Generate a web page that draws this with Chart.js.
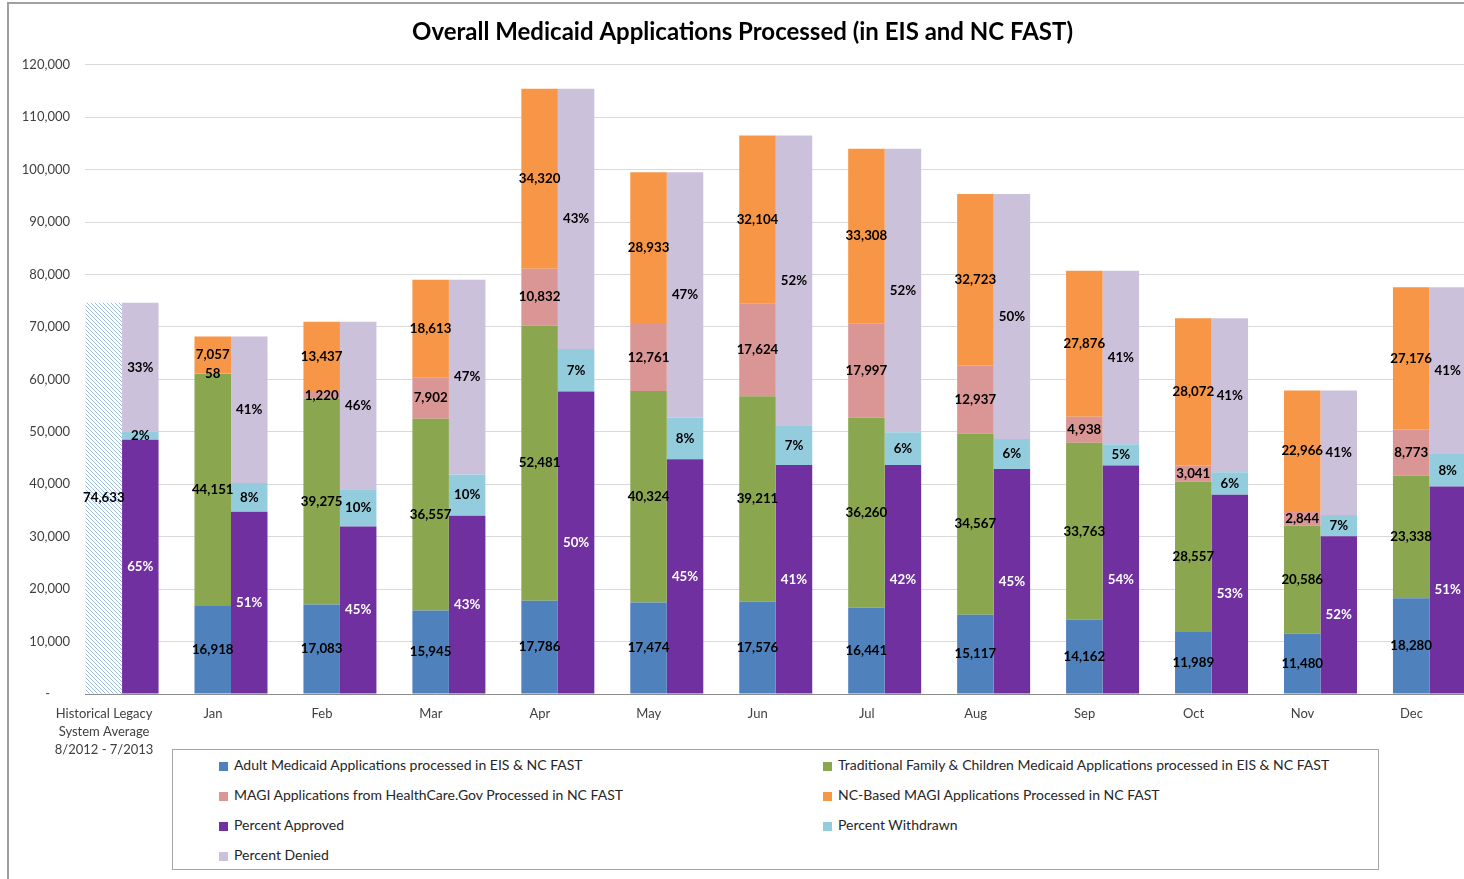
<!DOCTYPE html>
<html>
<head>
<meta charset="utf-8">
<title>Overall Medicaid Applications Processed</title>
<script src="https://cdn.jsdelivr.net/npm/chart.js@4.4.1/dist/chart.umd.min.js"></script>
<style>
  html, body { margin: 0; padding: 0; background: #fff; overflow: hidden; }
  #wrap { position: relative; width: 1464px; height: 879px; overflow: hidden; }
  #frame { position: absolute; left: 7px; top: 2px; width: 1600px; height: 1000px;
           border-left: 2px solid #a0a0a0; border-top: 2px solid #a0a0a0; }
  #chart { position: absolute; left: 0; top: 0; }
  #legend { position: absolute; left: 172px; top: 749px; width: 1207px; height: 121px;
            box-sizing: border-box; border: 1px solid #a6a6a6; background: #fff;
            font-family: Lato, sans-serif; font-size: 14px; color: #262626; }
  .item { position: absolute; height: 18px; line-height: 18px; white-space: nowrap; }
  .item i { display: inline-block; width: 9px; height: 9px; margin-right: 6px; vertical-align: -0.5px; }
</style>
</head>
<body>
<div id="wrap">
  <canvas id="chart" width="1490" height="879"></canvas>
  <div id="frame"></div>
  <div id="legend"></div>
</div>
<script>
// ---- data ----
const categories = [['Historical Legacy', 'System Average', '8/2012 - 7/2013'],
  'Jan', 'Feb', 'Mar', 'Apr', 'May', 'Jun', 'Jul', 'Aug', 'Sep', 'Oct', 'Nov', 'Dec'];

const historicalAvg  = [74633, null, null, null, null, null, null, null, null, null, null, null, null];
const adult          = [null, 16918, 17083, 15945, 17786, 17474, 17576, 16441, 15117, 14162, 11989, 11480, 18280];
const traditional    = [null, 44151, 39275, 36557, 52481, 40324, 39211, 36260, 34567, 33763, 28557, 20586, 23338];
const magiHealthcare = [null, 58, 1220, 7902, 10832, 12761, 17624, 17997, 12937, 4938, 3041, 2844, 8773];
const magiNC         = [null, 7057, 13437, 18613, 34320, 28933, 32104, 33308, 32723, 27876, 28072, 22966, 27176];

const pctApproved  = [65, 51, 45, 43, 50, 45, 41, 42, 45, 54, 53, 52, 51];
const pctWithdrawn = [2, 8, 10, 10, 7, 8, 7, 6, 6, 5, 6, 7, 8];
const pctDenied    = [33, 41, 46, 47, 43, 47, 52, 52, 50, 41, 41, 41, 41];

const yTicks = [0, 10000, 20000, 30000, 40000, 50000, 60000, 70000, 80000, 90000, 100000, 110000, 120000];

const legendNames = [
  ['Adult Medicaid Applications processed in EIS & NC FAST', '#4f81bd'],
  ['Traditional Family & Children Medicaid Applications processed in EIS & NC FAST', '#8aa64f'],
  ['MAGI Applications from HealthCare.Gov Processed in NC FAST', '#d99694'],
  ['NC-Based MAGI Applications Processed in NC FAST', '#f79646'],
  ['Percent Approved', '#7030a0'],
  ['Percent Withdrawn', '#93cddd'],
  ['Percent Denied', '#ccc1da']
];

// percent bars are drawn as share of each month's total
const totals = categories.map((_, i) => historicalAvg[i] != null ? historicalAvg[i]
  : adult[i] + traditional[i] + magiHealthcare[i] + magiNC[i]);
const approvedH  = totals.map((t, i) => t * pctApproved[i] / 100);
const withdrawnH = totals.map((t, i) => t * pctWithdrawn[i] / 100);
const deniedH    = totals.map((t, i) => t - approvedH[i] - withdrawnH[i]);

const fmt = v => v == null ? null : v.toLocaleString('en-US');
const pct = v => v + '%';
const pts = arr => arr.map((v, i) => ({ x: i, y: v }));

// hatched fill for the legacy average bar
function hatch() {
  const c = document.createElement('canvas');
  c.width = 4; c.height = 4;
  const g = c.getContext('2d');
  g.fillStyle = '#ffffff';
  g.fillRect(0, 0, 4, 4);
  g.strokeStyle = '#9dbbe2';
  g.lineWidth = 1;
  g.beginPath();
  g.moveTo(-1, -1); g.lineTo(5, 5);
  g.moveTo(-1, 3); g.lineTo(1, 5);
  g.moveTo(3, -1); g.lineTo(5, 1);
  g.stroke();
  return g.createPattern(c, 'repeat');
}

const series = [
  { data: historicalAvg,  color: hatch(),        stack: 'apps', text: historicalAvg.map(fmt), tc: '#000' },
  { data: adult,          color: legendNames[0][1], stack: 'apps', text: adult.map(fmt), tc: '#000' },
  { data: traditional,    color: legendNames[1][1], stack: 'apps', text: traditional.map(fmt), tc: '#000' },
  { data: magiHealthcare, color: legendNames[2][1], stack: 'apps', text: magiHealthcare.map(fmt), tc: '#000' },
  { data: magiNC,         color: legendNames[3][1], stack: 'apps', text: magiNC.map(fmt), tc: '#000' },
  { data: approvedH,      color: legendNames[4][1], stack: 'pct', text: pctApproved.map(pct), tc: '#fff' },
  { data: withdrawnH,     color: legendNames[5][1], stack: 'pct', text: pctWithdrawn.map(pct), tc: '#000' },
  { data: deniedH,        color: legendNames[6][1], stack: 'pct', text: pctDenied.map(pct), tc: '#000' }
];

const segmentLabels = {
  id: 'segmentLabels',
  afterDatasetsDraw(chart) {
    const ctx = chart.ctx;
    ctx.save();
    ctx.font = 'bold 13.3px Lato';
    ctx.textAlign = 'center';
    ctx.textBaseline = 'middle';
    series.forEach((s, di) => {
      chart.getDatasetMeta(di).data.forEach((bar, i) => {
        const t = s.text[i];
        if (t == null || s.data[i] == null) return;
        ctx.fillStyle = s.tc;
        ctx.fillText(t, bar.x, (bar.y + bar.base) / 2);
      });
    });
    ctx.restore();
  }
};

new Chart(document.getElementById('chart'), {
  type: 'bar',
  data: {
    datasets: series.map(s => ({
      data: pts(s.data),
      backgroundColor: s.color,
      stack: s.stack,
      borderWidth: 0,
      categoryPercentage: 0.67,
      barPercentage: 1
    }))
  },
  options: {
    responsive: false,
    animation: false,
    layout: { padding: { left: 0, right: 5, top: 0, bottom: 0 } },
    plugins: {
      legend: { display: false },
      tooltip: { enabled: false },
      title: {
        display: true,
        text: 'Overall Medicaid Applications Processed (in EIS and NC FAST)',
        color: '#000',
        font: { family: 'Lato', size: 24, weight: 'bold', lineHeight: 1.2 },
        padding: { top: 18, bottom: 18 }
      }
    },
    scales: {
      x: {
        type: 'linear',
        stacked: true,
        offset: false,
        bounds: 'data',
        min: -0.34,
        max: 12.51,
        afterBuildTicks: s => { s.ticks = categories.map((_, i) => ({ value: i })); },
        afterFit: s => { s.height = 185; },
        grid: { display: false, offset: false },
        border: { color: '#8c8c8c', width: 1 },
        ticks: {
          autoSkip: false, maxRotation: 0, labelOffset: -18, padding: 3,
          color: '#404040',
          font: { family: 'Lato', size: 13, lineHeight: 1.38 },
          callback: v => categories[v]
        }
      },
      y: {
        stacked: true,
        min: 0,
        max: 120000,
        afterBuildTicks: s => { s.ticks = yTicks.map(v => ({ value: v })); },
        afterFit: s => { s.width = 85; },
        grid: {
          drawTicks: false,
          color: c => c.tick && c.tick.value === 0 ? 'rgba(0,0,0,0)' : '#d9d9d9'
        },
        border: { display: false },
        ticks: {
          padding: 15,
          color: '#404040',
          font: { family: 'Lato', size: 13 },
          callback: v => v === 0 ? '-      ' : v.toLocaleString('en-US')
        }
      }
    }
  },
  plugins: [segmentLabels]
});

// legend: two columns, four rows
const legend = document.getElementById('legend');
legendNames.forEach(([name, color], k) => {
  const el = document.createElement('div');
  el.className = 'item';
  el.style.left = (k % 2 === 0 ? 46 : 650) + 'px';
  el.style.top = (6 + Math.floor(k / 2) * 30) + 'px';
  el.innerHTML = '<i style="background:' + color + '"></i>';
  el.appendChild(document.createTextNode(name));
  legend.appendChild(el);
});
</script>
</body>
</html>
